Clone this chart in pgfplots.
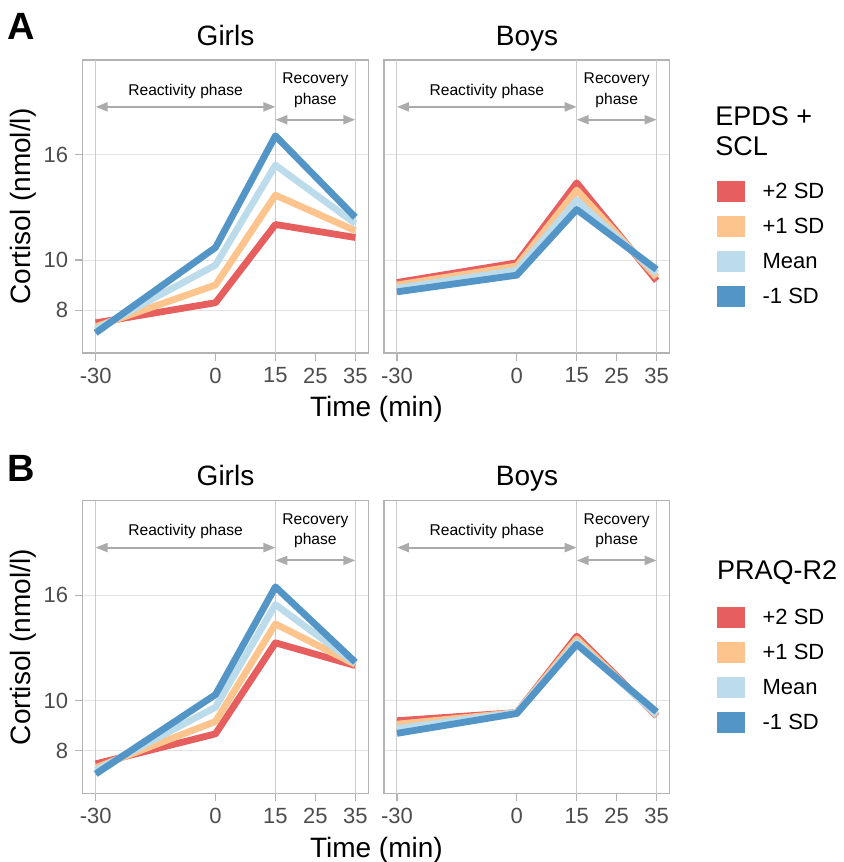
\documentclass[border=0pt]{standalone}
\usepackage{fontspec}
\setmainfont{Liberation Sans}
\usepackage{pgfplots}
\pgfplotsset{compat=1.18}
\usetikzlibrary{arrows.meta}

\definecolor{cred}{HTML}{E65E5D}
\definecolor{corange}{HTML}{FDC48D}
\definecolor{clblue}{HTML}{BCDCEB}
\definecolor{cblue}{HTML}{5395C7}
\definecolor{framec}{HTML}{B3B3B3}
\definecolor{gridc}{HTML}{E3E3E3}
\definecolor{vlinec}{HTML}{CCCCCC}
\definecolor{arrowc}{HTML}{ABABAB}
\definecolor{ticklab}{HTML}{4D4D4D}

\newcommand{\phasemarks}{%
  \draw[vlinec, line width=0.5pt] (axis cs:-30,6.61) -- (axis cs:-30,24.4);
  \draw[vlinec, line width=0.5pt] (axis cs:15,6.61) -- (axis cs:15,24.4);
  \draw[vlinec, line width=0.5pt] (axis cs:35,6.61) -- (axis cs:35,24.4);
  \draw[arrowc, line width=1pt, {Triangle[length=6pt,width=4.5pt]}-{Triangle[length=6pt,width=4.5pt]}]
    (axis cs:-30,19.8) -- (axis cs:15,19.8);
  \draw[arrowc, line width=1pt, {Triangle[length=6pt,width=4.5pt]}-{Triangle[length=6pt,width=4.5pt]}]
    (axis cs:15,18.7) -- (axis cs:35,18.7);
  \node[anchor=base, font=\fontsize{7.8}{9}\selectfont] at (axis cs:-7.5,20.86) {Reactivity phase};
  \node[anchor=base, font=\fontsize{7.8}{9}\selectfont] at (axis cs:25,21.97) {Recovery};
  \node[anchor=base, font=\fontsize{7.8}{9}\selectfont] at (axis cs:25,20.04) {phase};
}

\begin{document}
\begin{tikzpicture}
\useasboundingbox (0pt,0pt) rectangle (421.5pt,-431pt);

% ---- A girls ----
\begin{axis}[
  scale only axis, width=142.8pt, height=146.5pt,
  anchor=north west, at={(41.35pt,-30pt)},
  xmin=-33.25, xmax=38.25,
  ymode=log, ymin=6.61, ymax=24.4,
  xtick={-30,0,15,25,35}, xticklabels={-30,0,15,25,35},
  ytick={8,10,16}, yticklabels={8,10,16},
  ymajorgrids, major grid style={gridc, line width=0.55pt},
  axis line style={framec, line width=0.6pt},
  tick align=outside, xtick pos=bottom, ytick pos=left,
  major tick length=3.8pt,
  tick style={framec, line width=0.6pt},
  tick label style={font=\fontsize{11}{13}\selectfont, text=ticklab},
]
\phasemarks
\addplot[cred, line width=3.4pt, line join=round] coordinates {(-30,7.56) (0,8.27) (15,11.72) (35,11.06)};
\addplot[corange, line width=3.4pt, line join=round] coordinates {(-30,7.43) (0,8.95) (15,13.36) (35,11.40)};
\addplot[clblue, line width=3.4pt, line join=round] coordinates {(-30,7.34) (0,9.78) (15,15.27) (35,11.77)};
\addplot[cblue, line width=3.4pt, line join=round] coordinates {(-30,7.23) (0,10.58) (15,17.40) (35,12.10)};
\end{axis}

% ---- A boys ----
\begin{axis}[
  scale only axis, width=142.8pt, height=146.5pt,
  anchor=north west, at={(192pt,-30pt)},
  xmin=-33.25, xmax=38.25,
  ymode=log, ymin=6.61, ymax=24.4,
  xtick={-30,0,15,25,35}, xticklabels={-30,0,15,25,35},
  ytick={8,10,16}, yticklabels={},
  ymajorgrids, major grid style={gridc, line width=0.55pt},
  axis line style={framec, line width=0.6pt},
  tick align=outside, xtick pos=bottom, ytick pos=left,
  major tick length=3.8pt,
  tick style={framec, line width=0.6pt},
  ytick style={draw=none},
  tick label style={font=\fontsize{11}{13}\selectfont, text=ticklab},
  legend style={draw=none, fill=none, inner sep=0pt, anchor=north west,
    at={(1.1633,0.587)},
    font=\fontsize{11}{13}\selectfont, row sep=7pt, column sep=9pt,
    nodes={inner sep=0pt, text height=8pt, text depth=1.6pt}},
  legend cell align=left,
  legend image code/.code={\fill[#1, draw=none] (0pt,-5.25pt) rectangle (14pt,5.25pt);},
]
\phasemarks
\addplot[cred, line width=3.4pt, line join=round] coordinates {(-30,9.05) (0,9.88) (15,14.11) (35,9.12)};
\addplot[corange, line width=3.4pt, line join=round] coordinates {(-30,8.95) (0,9.74) (15,13.66) (35,9.26)};
\addplot[clblue, line width=3.4pt, line join=round] coordinates {(-30,8.82) (0,9.56) (15,13.06) (35,9.42)};
\addplot[cblue, line width=3.4pt, line join=round] coordinates {(-30,8.68) (0,9.35) (15,12.53) (35,9.59)};
\addlegendentry{+2 SD}
\addlegendentry{+1 SD}
\addlegendentry{Mean}
\addlegendentry{-1 SD}
\end{axis}

% ---- B girls ----
\begin{axis}[
  scale only axis, width=142.8pt, height=146.5pt,
  anchor=north west, at={(41.35pt,-250.35pt)},
  xmin=-33.25, xmax=38.25,
  ymode=log, ymin=6.61, ymax=24.4,
  xtick={-30,0,15,25,35}, xticklabels={-30,0,15,25,35},
  ytick={8,10,16}, yticklabels={8,10,16},
  ymajorgrids, major grid style={gridc, line width=0.55pt},
  axis line style={framec, line width=0.6pt},
  tick align=outside, xtick pos=bottom, ytick pos=left,
  major tick length=3.8pt,
  tick style={framec, line width=0.6pt},
  tick label style={font=\fontsize{11}{13}\selectfont, text=ticklab},
]
\phasemarks
\addplot[cred, line width=3.4pt, line join=round] coordinates {(-30,7.55) (0,8.63) (15,12.95) (35,11.70)};
\addplot[corange, line width=3.4pt, line join=round] coordinates {(-30,7.42) (0,9.12) (15,14.09) (35,11.76)};
\addplot[clblue, line width=3.4pt, line join=round] coordinates {(-30,7.33) (0,9.72) (15,15.36) (35,11.82)};
\addplot[cblue, line width=3.4pt, line join=round] coordinates {(-30,7.22) (0,10.28) (15,16.62) (35,11.88)};
\end{axis}

% ---- B boys ----
\begin{axis}[
  scale only axis, width=142.8pt, height=146.5pt,
  anchor=north west, at={(192pt,-250.35pt)},
  xmin=-33.25, xmax=38.25,
  ymode=log, ymin=6.61, ymax=24.4,
  xtick={-30,0,15,25,35}, xticklabels={-30,0,15,25,35},
  ytick={8,10,16}, yticklabels={},
  ymajorgrids, major grid style={gridc, line width=0.55pt},
  axis line style={framec, line width=0.6pt},
  tick align=outside, xtick pos=bottom, ytick pos=left,
  major tick length=3.8pt,
  tick style={framec, line width=0.6pt},
  ytick style={draw=none},
  tick label style={font=\fontsize{11}{13}\selectfont, text=ticklab},
  legend style={draw=none, fill=none, inner sep=0pt, anchor=north west,
    at={(1.1633,0.638)},
    font=\fontsize{11}{13}\selectfont, row sep=7pt, column sep=9pt,
    nodes={inner sep=0pt, text height=8pt, text depth=1.6pt}},
  legend cell align=left,
  legend image code/.code={\fill[#1, draw=none] (0pt,-5.25pt) rectangle (14pt,5.25pt);},
]
\phasemarks
\addplot[cred, line width=3.4pt, line join=round] coordinates {(-30,9.15) (0,9.49) (15,13.34) (35,9.34)};
\addplot[corange, line width=3.4pt, line join=round] coordinates {(-30,9.01) (0,9.49) (15,13.17) (35,9.37)};
\addplot[clblue, line width=3.4pt, line join=round] coordinates {(-30,8.84) (0,9.49) (15,12.98) (35,9.40)};
\addplot[cblue, line width=3.4pt, line join=round] coordinates {(-30,8.65) (0,9.45) (15,12.86) (35,9.52)};
\addlegendentry{+2 SD}
\addlegendentry{+1 SD}
\addlegendentry{Mean}
\addlegendentry{-1 SD}
\end{axis}

% ---- texts ----
\node[anchor=base, font=\fontsize{19}{22}\selectfont\bfseries] at (10.75pt,-19.65pt) {A};
\node[anchor=base, font=\fontsize{19}{22}\selectfont\bfseries] at (10.75pt,-240.8pt) {B};
\node[anchor=base, font=\fontsize{14}{16}\selectfont] at (112.75pt,-22.5pt) {Girls};
\node[anchor=base, font=\fontsize{14}{16}\selectfont] at (263.5pt,-22.5pt) {Boys};
\node[anchor=base, font=\fontsize{14}{16}\selectfont] at (112.75pt,-242.5pt) {Girls};
\node[anchor=base, font=\fontsize{14}{16}\selectfont] at (263.5pt,-242.5pt) {Boys};
\node[anchor=base, font=\fontsize{14}{16}\selectfont] at (188.2pt,-208.35pt) {Time (min)};
\node[anchor=base, font=\fontsize{14}{16}\selectfont] at (188.2pt,-428.5pt) {Time (min)};
\node[rotate=90, font=\fontsize{14}{16}\selectfont] at (11.5pt,-103.25pt) {Cortisol (nmol/l)};
\node[rotate=90, font=\fontsize{14}{16}\selectfont] at (11.5pt,-323.5pt) {Cortisol (nmol/l)};
\node[anchor=base west, inner sep=0pt, font=\fontsize{13.5}{16}\selectfont] at (357.5pt,-62.85pt) {EPDS +};
\node[anchor=base west, inner sep=0pt, font=\fontsize{13.5}{16}\selectfont] at (357.5pt,-77.5pt) {SCL};
\node[anchor=base west, inner sep=0pt, font=\fontsize{13.5}{16}\selectfont] at (358.3pt,-289.65pt) {PRAQ-R2};
\end{tikzpicture}
\end{document}
